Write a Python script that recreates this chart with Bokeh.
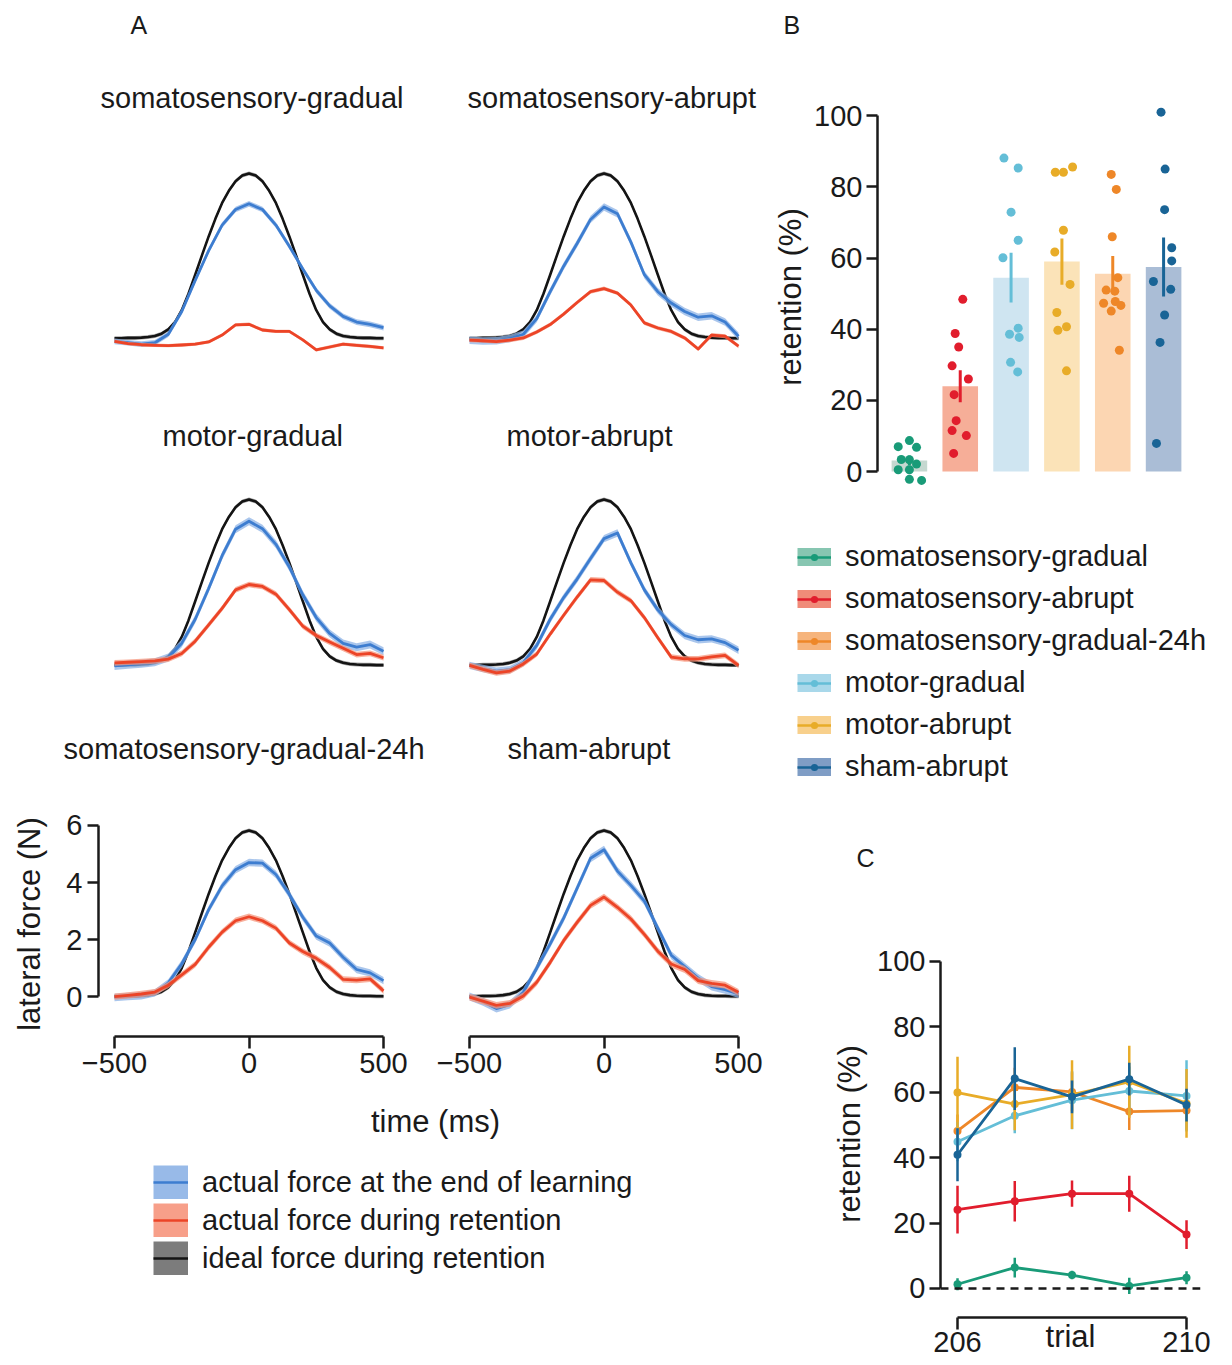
import numpy as np
from bokeh.plotting import figure
from bokeh.layouts import row, column
from bokeh.models import Range1d, LinearAxis, FixedTicker, Title, Legend, LegendItem, Span
from bokeh.embed import file_html
from bokeh.resources import INLINE

FONT = "Liberation Sans"
INK = "#1a1a1a"

# ---------------- Panel A data (lateral force, N) ----------------
TIME_IDEAL = list(range(-500, 501, 25))
IDEAL_FORCE = [0.01, 0.01, 0.02, 0.02, 0.03, 0.05, 0.09, 0.17, 0.32, 0.58, 1.00, 1.58, 2.25, 2.93,
               3.60, 4.22, 4.78, 5.21, 5.55, 5.75, 5.82, 5.75, 5.55, 5.21, 4.78, 4.22, 3.60, 2.93,
               2.25, 1.58, 1.00, 0.58, 0.32, 0.17, 0.09, 0.05, 0.03, 0.02, 0.02, 0.01, 0.01]
IDEAL_SEM = 0.07

TIME = list(range(-500, 501, 50))
PANEL_TITLES = ["somatosensory-gradual", "somatosensory-abrupt", "motor-gradual",
                "motor-abrupt", "somatosensory-gradual-24h", "sham-abrupt"]

BLUE_SG = [-0.10, -0.15, -0.20, -0.15, 0.15, 0.95, 2.05, 3.10, 4.00, 4.55, 4.75, 4.55, 4.00, 3.25, 2.45, 1.70, 1.15, 0.78, 0.58, 0.50, 0.38]
RED_SG = [-0.10, -0.18, -0.22, -0.24, -0.25, -0.23, -0.20, -0.12, 0.12, 0.48, 0.50, 0.30, 0.25, 0.25, -0.05, -0.40, -0.30, -0.20, -0.24, -0.28, -0.33]
BLUE_SA = [-0.06, -0.09, -0.08, 0.00, 0.15, 0.70, 1.65, 2.55, 3.35, 4.20, 4.64, 4.40, 3.40, 2.25, 1.65, 1.25, 0.95, 0.75, 0.80, 0.58, 0.08]
RED_SA = [-0.06, -0.08, -0.11, -0.06, 0.02, 0.23, 0.49, 0.86, 1.27, 1.65, 1.76, 1.60, 1.18, 0.55, 0.37, 0.25, 0.02, -0.37, 0.12, 0.08, -0.27]
BLUE_MG = [-0.02, 0.02, 0.06, 0.11, 0.28, 0.78, 1.62, 2.70, 3.85, 4.78, 5.06, 4.80, 4.25, 3.45, 2.48, 1.68, 1.12, 0.77, 0.64, 0.73, 0.50]
RED_MG = [0.09, 0.11, 0.13, 0.16, 0.22, 0.42, 0.85, 1.42, 2.00, 2.65, 2.84, 2.77, 2.50, 1.96, 1.38, 1.05, 0.82, 0.60, 0.38, 0.42, 0.27]
BLUE_MA = [0.00, -0.11, -0.20, -0.15, 0.10, 0.70, 1.62, 2.38, 3.03, 3.75, 4.45, 4.65, 3.60, 2.65, 1.95, 1.43, 1.05, 0.90, 0.93, 0.80, 0.53]
RED_MA = [0.00, -0.14, -0.26, -0.20, 0.05, 0.40, 1.10, 1.76, 2.40, 3.00, 2.98, 2.57, 2.27, 1.68, 0.97, 0.29, 0.23, 0.23, 0.30, 0.35, 0.00]
BLUE_SG24 = [-0.03, 0.00, 0.03, 0.13, 0.48, 1.15, 2.00, 3.05, 3.88, 4.45, 4.70, 4.68, 4.28, 3.58, 2.78, 2.12, 1.88, 1.38, 0.95, 0.83, 0.56]
RED_SG24 = [0.00, 0.04, 0.09, 0.16, 0.40, 0.76, 1.13, 1.73, 2.26, 2.66, 2.80, 2.66, 2.40, 1.88, 1.58, 1.34, 1.02, 0.60, 0.58, 0.62, 0.20]
BLUE_SH = [0.00, -0.18, -0.42, -0.28, 0.15, 1.00, 1.85, 2.75, 3.80, 4.85, 5.15, 4.40, 3.90, 3.35, 2.40, 1.45, 1.05, 0.65, 0.35, 0.24, 0.09]
RED_SH = [-0.02, -0.16, -0.31, -0.24, 0.02, 0.50, 1.20, 1.96, 2.60, 3.20, 3.49, 3.13, 2.72, 2.18, 1.59, 1.14, 0.95, 0.56, 0.46, 0.40, 0.15]

BLUE_FORCE = [BLUE_SG, BLUE_SA, BLUE_MG, BLUE_MA, BLUE_SG24, BLUE_SH]
RED_FORCE = [RED_SG, RED_SA, RED_MG, RED_MA, RED_SG24, RED_SH]
BLUE_SEM = [0.10, 0.13, 0.14, 0.13, 0.13, 0.14]
RED_SEM = [0.06, 0.07, 0.10, 0.10, 0.11, 0.12]

A_LEGEND = ["actual force at the end of learning", "actual force during retention",
            "ideal force during retention"]

# ---------------- Panel B data (retention, %) ----------------
GROUPS_B = ["somatosensory-gradual", "somatosensory-abrupt", "motor-gradual",
            "motor-abrupt", "somatosensory-gradual-24h", "sham-abrupt"]
RET_MEAN = [3.1, 24.0, 54.5, 59.0, 55.6, 57.5]
RET_SEM = [1.4, 4.5, 7.0, 6.5, 5.0, 8.3]
SUBJ_VALUES = [
    [7.0, 8.7, 6.8, 3.4, 3.3, 2.1, 0.5, 0.5, -2.2, -2.5],
    [48.4, 38.8, 35.0, 29.7, 26.0, 21.6, 14.3, 11.5, 10.1, 5.1],
    [88.1, 85.3, 72.9, 65.0, 60.1, 38.6, 40.3, 37.7, 30.7, 28.0],
    [84.1, 84.1, 85.6, 67.8, 61.7, 52.6, 44.7, 39.7, 40.7, 28.3],
    [83.5, 79.3, 66.0, 54.5, 51.0, 50.7, 47.3, 47.8, 46.7, 45.1, 34.1],
    [101.0, 85.0, 73.6, 62.9, 59.2, 53.4, 51.2, 44.0, 36.3, 7.9],
]
SUBJ_JITTER = [
    [-0.22, 0.0, 0.14, -0.16, 0.0, 0.14, -0.22, 0.0, 0.0, 0.24],
    [0.05, -0.10, -0.03, -0.16, 0.16, -0.12, -0.08, -0.16, 0.12, -0.13],
    [-0.14, 0.14, 0.0, 0.14, -0.16, -0.03, 0.14, 0.16, -0.01, 0.13],
    [-0.13, 0.03, 0.21, 0.03, -0.14, 0.16, -0.10, -0.08, 0.09, 0.09],
    [-0.03, 0.07, -0.01, 0.10, -0.13, 0.04, -0.18, 0.05, 0.16, -0.03, 0.13],
    [-0.05, 0.03, 0.02, 0.16, 0.16, -0.20, 0.14, 0.02, -0.07, -0.14],
]

# ---------------- Legend / Panel C data ----------------
GROUPS_C = ["somatosensory-gradual", "somatosensory-abrupt", "somatosensory-gradual-24h",
            "motor-gradual", "motor-abrupt", "sham-abrupt"]
TRIALS = [206, 207, 208, 209, 210]
C_MEAN = [
    [1.3, 6.4, 4.1, 0.8, 3.3],
    [24.1, 26.7, 29.0, 29.0, 16.5],
    [48.2, 61.5, 60.1, 54.1, 54.4],
    [44.9, 52.8, 57.6, 60.4, 58.9],
    [59.9, 56.4, 59.3, 63.2, 56.6],
    [40.9, 64.2, 58.6, 64.0, 56.1],
]
C_SEM = [
    [1.8, 3.0, 1.3, 2.5, 2.0],
    [7.3, 6.2, 4.0, 5.5, 4.4],
    [5.0, 6.0, 6.0, 5.6, 6.0],
    [6.0, 5.3, 8.9, 7.5, 10.9],
    [11.0, 8.0, 10.5, 11.0, 10.5],
    [8.1, 9.6, 5.0, 5.0, 5.0],
]

DOT_COLOR = {"somatosensory-gradual": "#199b78", "somatosensory-abrupt": "#e11d2d",
             "somatosensory-gradual-24h": "#ee8728", "motor-gradual": "#64bed7",
             "motor-abrupt": "#e8ac28", "sham-abrupt": "#196496"}
BAR_FILL = {"somatosensory-gradual": "#c5d8d0", "somatosensory-abrupt": "#f6ae98",
            "somatosensory-gradual-24h": "#fcd6b2", "motor-gradual": "#cfe5f1",
            "motor-abrupt": "#fbe3b8", "sham-abrupt": "#aabdd6"}
SWATCH = {"somatosensory-gradual": "#87c6b1", "somatosensory-abrupt": "#f08b79",
          "somatosensory-gradual-24h": "#f6b47c", "motor-gradual": "#a9d8ea",
          "motor-abrupt": "#f8d08c", "sham-abrupt": "#7f9dc5"}

BLUE_LINE, BLUE_BAND = "#3d7dd0", "#8db3e6"
RED_LINE, RED_BAND = "#ec4427", "#f6957c"
BLACK_LINE, BLACK_BAND = "#141414", "#6e6e6e"

NAN = [float("nan")]


def base_fig(width, height, xr, yr, bl, br, bt, bb):
    p = figure(width=width, height=height, x_range=xr, y_range=yr, output_backend="svg",
               toolbar_location=None, x_axis_location=None, y_axis_location=None,
               min_border_left=bl, min_border_right=br, min_border_top=bt, min_border_bottom=bb)
    p.grid.visible = False
    p.outline_line_color = None
    p.background_fill_color = "white"
    p.border_fill_color = "white"
    return p


def style_axis(ax, ticks, bounds, label=None, label_standoff=5, axis_label_standoff=5):
    ax.ticker = FixedTicker(ticks=ticks, minor_ticks=[])
    if bounds is not None:
        ax.bounds = bounds
    ax.axis_line_width = 2.5
    ax.axis_line_color = INK
    ax.major_tick_line_width = 2.5
    ax.major_tick_line_color = INK
    ax.major_tick_out = 11
    ax.major_tick_in = 0
    ax.minor_tick_line_color = None
    ax.major_label_text_font = FONT
    ax.major_label_text_font_size = "29px"
    ax.major_label_text_color = INK
    ax.major_label_standoff = label_standoff
    if label:
        ax.axis_label = label
        ax.axis_label_text_font = FONT
        ax.axis_label_text_font_size = "31px"
        ax.axis_label_text_font_style = "normal"
        ax.axis_label_text_color = INK
        ax.axis_label_standoff = axis_label_standoff
    return ax


def add_title(p, text, size="29px", align="left", offset=0, standoff=10, line_height=1.2):
    p.add_layout(Title(text=text, align=align, offset=offset, standoff=standoff, text_font=FONT,
                       text_font_size=size, text_font_style="normal", text_color=INK,
                       text_line_height=line_height), "above")


# ---------------- Panel A ----------------
ROW_BT = [145, 92, 129]
ROW_BB = [33, 0, 64]
ROW_YLOW = [-0.6, -0.6, -1.40]
ROW_TITLE_STANDOFF = [82, 58, 94]
COL_W = [422, 340]
COL_BL = [90, 23]
COL_BR = [44, 29]
TITLE_OFFSET = [[2, 14], [64, 53], [-35, 54]]
PX_PER_N = 28.5

t_ideal = np.array(TIME_IDEAL, dtype=float)
ideal = np.array(IDEAL_FORCE)
t = np.array(TIME, dtype=float)

a_rows = []
for r in range(3):
    figs = []
    frame_h = int(round((6.49 - ROW_YLOW[r]) * PX_PER_N))
    for c in range(2):
        i = r * 2 + c
        p = base_fig(COL_W[c], ROW_BT[r] + frame_h + ROW_BB[r], Range1d(-559.5, 511.1),
                     Range1d(ROW_YLOW[r], 6.49), COL_BL[c], COL_BR[c], ROW_BT[r], ROW_BB[r])
        add_title(p, PANEL_TITLES[i], offset=TITLE_OFFSET[r][c], standoff=ROW_TITLE_STANDOFF[r])
        if i == 0:
            add_title(p, "A", size="25px", offset=32, standoff=0)
        blue = np.array(BLUE_FORCE[i])
        red = np.array(RED_FORCE[i])
        p.varea(x=t_ideal, y1=ideal - IDEAL_SEM, y2=ideal + IDEAL_SEM, fill_color=BLACK_BAND, fill_alpha=0.6)
        p.line(t_ideal, ideal, line_color=BLACK_LINE, line_width=2.6, line_join="round")
        p.varea(x=t, y1=blue - BLUE_SEM[i], y2=blue + BLUE_SEM[i], fill_color=BLUE_BAND, fill_alpha=0.75)
        p.line(t, blue, line_color=BLUE_LINE, line_width=2.8, line_join="round")
        p.varea(x=t, y1=red - RED_SEM[i], y2=red + RED_SEM[i], fill_color=RED_BAND, fill_alpha=0.75)
        p.line(t, red, line_color=RED_LINE, line_width=2.8, line_join="round")
        if r == 2:
            xa = style_axis(LinearAxis(), [-500, 0, 500], (-500, 500), label_standoff=4)
            xa.major_tick_out = 12
            xa.major_label_overrides = {-500: "\u2212500"}
            p.add_layout(xa, "below")
            if c == 0:
                ya = style_axis(LinearAxis(), [0, 2, 4, 6], (0, 6), label="lateral force (N)",
                                label_standoff=5, axis_label_standoff=16)
                p.add_layout(ya, "left")
        figs.append(p)
    a_rows.append(row(*figs))

# Legend for panel A + shared x label ("time (ms)") drawn as a tick-less top axis label
legA = base_fig(762, 190, Range1d(0, 1), Range1d(0, 1), 145, 53, 64, 0)
tx = style_axis(LinearAxis(), [], None, label="time (ms)", label_standoff=0, axis_label_standoff=27)
tx.axis_line_color = None
tx.major_tick_line_color = None
tx.major_tick_out = 0
tx.major_label_text_font_size = "1px"
legA.add_layout(tx, "above")
a_items = []
for lab, band, ln in zip(A_LEGEND, [BLUE_BAND, RED_BAND, BLACK_BAND], [BLUE_LINE, RED_LINE, BLACK_LINE]):
    r1 = legA.line(NAN, NAN, line_color=band, line_width=34, line_alpha=0.9)
    r2 = legA.line(NAN, NAN, line_color=ln, line_width=2.5)
    a_items.append(LegendItem(label=lab, renderers=[r1, r2]))
la = Legend(items=a_items, location="top_left", margin=0, padding=0, spacing=4,
            glyph_width=35, glyph_height=34, label_height=34, label_standoff=14,
            label_text_font=FONT, label_text_font_size="29px", label_text_color=INK,
            border_line_color=None, background_fill_alpha=0)
legA.add_layout(la)

left = column(*a_rows, legA)

# ---------------- Panel B ----------------
pB = base_fig(454, 500, Range1d(0.3725, 6.608), Range1d(-5.89, 104.0), 106, 30, 92, 16)
add_title(pB, "B\n \n \n ", size="25px", offset=-94, standoff=0, line_height=0.75)
xs = np.arange(1, len(GROUPS_B) + 1)
pB.vbar(x=xs, top=RET_MEAN, bottom=0, width=0.7, fill_color=[BAR_FILL[g] for g in GROUPS_B], line_color=None)
mean = np.array(RET_MEAN)
sem = np.array(RET_SEM)
pB.segment(x0=xs, y0=mean - sem, x1=xs, y1=mean + sem, line_color=[DOT_COLOR[g] for g in GROUPS_B], line_width=3)
for k, g in enumerate(GROUPS_B):
    pB.scatter(x=xs[k] + np.array(SUBJ_JITTER[k]), y=SUBJ_VALUES[k], size=9,
               fill_color=DOT_COLOR[g], line_color=None)
yb = style_axis(LinearAxis(), [0, 20, 40, 60, 80, 100], (0, 100), label="retention (%)",
                label_standoff=4, axis_label_standoff=3)
pB.add_layout(yb, "left")

# ---------------- Legend for B/C ----------------
legB = base_fig(454, 322, Range1d(0, 1), Range1d(0, 1), 17, 0, 22, 0)
b_items = []
for g in GROUPS_C:
    r1 = legB.line(NAN, NAN, line_color=SWATCH[g], line_width=33)
    r2 = legB.line(NAN, NAN, line_color=DOT_COLOR[g], line_width=2.5)
    r3 = legB.scatter(NAN, NAN, marker="circle", size=7, line_color=None, fill_color=DOT_COLOR[g])
    b_items.append(LegendItem(label=g, renderers=[r1, r2, r3]))
lb = Legend(items=b_items, location="top_left", margin=10, padding=0, spacing=9,
            glyph_width=34, glyph_height=18, label_height=33, label_standoff=14,
            label_text_font=FONT, label_text_font_size="29px", label_text_color=INK,
            border_line_color=None, background_fill_alpha=0)
legB.add_layout(lb)

# ---------------- Panel C ----------------
pC = base_fig(454, 535, Range1d(205.703, 210.244), Range1d(-8.87, 103.36), 170, 24, 120, 48)
add_title(pC, "C\n \n \n ", size="25px", offset=-84, standoff=15, line_height=0.85)
pC.add_layout(Span(location=0, dimension="width", line_color=INK, line_width=2.5, line_dash="8 6"))
tr = np.array(TRIALS, dtype=float)
for k, g in enumerate(GROUPS_C):
    m = np.array(C_MEAN[k])
    s = np.array(C_SEM[k])
    col = DOT_COLOR[g]
    pC.segment(x0=tr, y0=m - s, x1=tr, y1=m + s, line_color=col, line_width=2.5)
    pC.line(tr, m, line_color=col, line_width=2.8, line_join="round")
    pC.scatter(tr, m, size=8, fill_color=col, line_color=None)
yc = style_axis(LinearAxis(), [0, 20, 40, 60, 80, 100], (0, 100), label="retention (%)",
                label_standoff=4, axis_label_standoff=7)
pC.add_layout(yc, "left")
xc = style_axis(LinearAxis(), [206, 210], (206, 210), label="trial", label_standoff=2,
                axis_label_standoff=-36)
xc.major_tick_out = 12
pC.add_layout(xc, "below")

right = column(row(pB), row(legB), row(pC))
layout = row(left, right, margin=(8, 0, 0, 8))

open("out.html", "w").write(file_html(layout, INLINE, "retention"))
